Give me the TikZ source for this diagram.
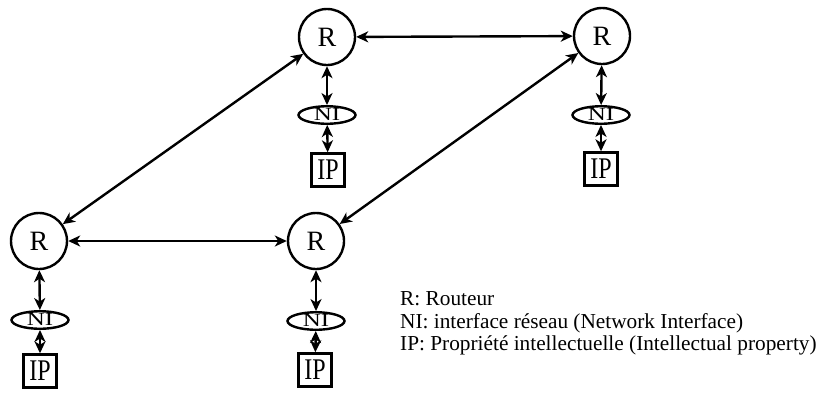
\documentclass[tikz,border=0pt]{standalone}
\usepackage{fontspec}
\setmainfont{Liberation Serif}
\usetikzlibrary{arrows.meta,shapes.geometric}
\begin{document}
\begin{tikzpicture}[x=1pt,y=-1pt,
  router/.style={circle,draw,line width=2.4pt,minimum size=56pt,inner sep=0pt,font=\fontsize{28}{28}\selectfont},
  ni/.style={ellipse,draw,line width=2.4pt,minimum width=57pt,minimum height=17.5pt,inner sep=0pt,text height=11pt,text depth=0pt},
  ipbox/.style={rectangle,draw,line width=2.4pt,minimum size=33pt,inner sep=0pt},
  link/.style={line width=2.4pt,{Stealth[length=12pt,width=11pt,inset=3.5pt]}-{Stealth[length=12pt,width=11pt,inset=3.5pt]}},
  legend/.style={anchor=base west,inner sep=0pt,font=\fontsize{21.3}{22}\selectfont}]
\useasboundingbox (0,0) rectangle (821,392);
% routers
\node[router] (R1) at (327,37) {R};
\node[router] (R2) at (602,36) {R};
\node[router] (R3) at (39,241) {R};
\node[router] (R4) at (316,241) {R};
% network interfaces
\node[ni] (N1) at (327,115) {\fontsize{18.5}{18.5}\selectfont\scalebox{1.35}[1]{NI}};
\node[ni] (N2) at (601,115) {\fontsize{18.5}{18.5}\selectfont\scalebox{1.35}[1]{NI}};
\node[ni] (N3) at (40,320) {\fontsize{18.5}{18.5}\selectfont\scalebox{1.35}[1]{NI}};
\node[ni] (N4) at (316,321) {\fontsize{18.5}{18.5}\selectfont\scalebox{1.35}[1]{NI}};
% IP blocks
\node[ipbox] (P1) at (328,170) {\fontsize{30}{30}\selectfont\scalebox{0.8}[1]{IP}};
\node[ipbox] (P2) at (601,169) {\fontsize{30}{30}\selectfont\scalebox{0.8}[1]{IP}};
\node[ipbox] (P3) at (40,371) {\fontsize{30}{30}\selectfont\scalebox{0.8}[1]{IP}};
\node[ipbox] (P4) at (315,370) {\fontsize{30}{30}\selectfont\scalebox{0.8}[1]{IP}};
% router links
\draw[link] (R1) -- (R2);
\draw[link] (R3) -- (R4);
\draw[link] (R3) -- (R1);
\draw[link] (R4) -- (R2);
% local links
\foreach \r/\n/\p in {R1/N1/P1,R2/N2/P2,R3/N3/P3,R4/N4/P4}{
  \draw[link] (\r) -- (\n);
  \draw[link] (\n) -- (\p);
}
% legend
\node[legend] (L1) at (400,305) {R: Routeur};
\node[legend] (L2) at (400,328) {NI: interface réseau (Network Interface)};
\node[legend] (L3) at (400,350) {IP: Propriété intellectuelle (Intellectual property)};
\end{tikzpicture}
\end{document}
